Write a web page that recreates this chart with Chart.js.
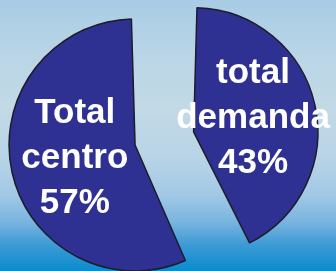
<!DOCTYPE html>
<html>
<head>
<meta charset="utf-8">
<script src="https://cdn.jsdelivr.net/npm/chart.js@4/dist/chart.umd.min.js"></script>
<style>
    html, body { margin: 0; padding: 0; }
    body {
        width: 336px;
        height: 271px;
        overflow: hidden;
        background: linear-gradient(to bottom,
            #a8cce5 0%, #b9d5e6 20%, #c3dae6 40%, #b6d3e6 60%,
            #a2c8e6 72%, #78b4df 82%, #3f9bd6 90%, #0a8ccd 100%);
    }
    #wrap { position: relative; width: 336px; height: 271px; }
</style>
</head>
<body>
<div id="wrap"><canvas id="grafico"></canvas></div>
<script>
// orden horario desde las 12
const categorias = [['total', 'demanda'], ['Total', 'centro']];
const valores = [43, 57];
const etiquetas = ['43%', '57%'];

// dibuja los textos dentro de cada porción
const textosPlugin = {
    id: 'textos',
    afterDatasetsDraw(chart) {
        const ctx = chart.ctx;
        const meta = chart.getDatasetMeta(0);
        ctx.save();
        ctx.fillStyle = '#ffffff';
        ctx.font = 'bold 35px "Liberation Sans", Arial, sans-serif';
        ctx.textAlign = 'center';
        ctx.textBaseline = 'alphabetic';
        meta.data.forEach((arc, i) => {
            const p = arc.getProps(['x', 'y', 'startAngle', 'endAngle', 'outerRadius']);
            const off = (arc.options.offset || 0) / 4;
            const circ = p.endAngle - p.startAngle;
            const fix = 1 - Math.sin(Math.min(Math.PI, circ));
            const r = p.outerRadius + off * fix;
            const mid = (p.startAngle + p.endAngle) / 2;
            const cx = p.x + Math.cos(mid) * (off + r * 0.49);
            const cy = p.y + Math.sin(mid) * (off + r * 0.49) + 9.5;
            const lineas = categorias[i].concat([etiquetas[i]]);
            lineas.forEach((l, j) => {
                ctx.fillText(l, cx, cy + (j - 1) * 45);
            });
        });
        ctx.restore();
    }
};

new Chart(document.getElementById('grafico'), {
    type: 'pie',
    data: {
        labels: categorias.map(c => c.join(' ')),
        datasets: [{
            data: valores,
            backgroundColor: '#2e3191',
            borderColor: '#1c1c2a',
            borderWidth: 1.5,
            offset: [148, 92]
        }]
    },
    options: {
        responsive: true,
        maintainAspectRatio: false,
        animation: false,
        radius: 103,
        layout: { padding: { left: 0, right: 21, top: 9, bottom: 0 } },
        plugins: {
            legend: { display: false },
            tooltip: { enabled: false }
        }
    },
    plugins: [textosPlugin]
});
</script>
</body>
</html>
